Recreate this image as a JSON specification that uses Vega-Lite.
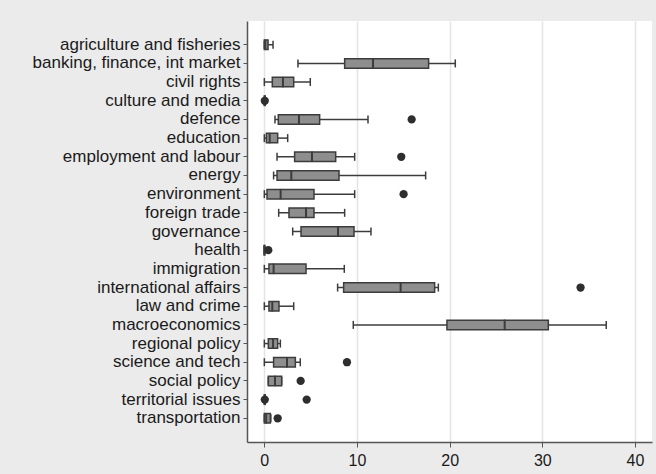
{
  "$schema": "https://vega.github.io/schema/vega-lite/v6.json",
  "width": 405,
  "height": 421,
  "autosize": {"type": "none"},
  "padding": {"left": 247, "top": 21, "right": 4, "bottom": 32},
  "background": "#ebebeb",
  "config": {
    "view": {"fill": "white", "stroke": null},
    "font": "Liberation Sans"
  },
  "datasets": {
    "boxes": [
      {"cat": "agriculture and fisheries", "lo": 0, "q1": 0, "med": 0.1, "q3": 0.4, "hi": 0.94},
      {"cat": "banking, finance, int market", "lo": 3.63, "q1": 8.67, "med": 11.73, "q3": 17.73, "hi": 20.61},
      {"cat": "civil rights", "lo": 0, "q1": 0.86, "med": 2.01, "q3": 3.17, "hi": 4.96},
      {"cat": "culture and media", "lo": 0, "q1": 0, "med": 0.05, "q3": 0.1, "hi": 0.1},
      {"cat": "defence", "lo": 1.15, "q1": 1.51, "med": 3.74, "q3": 5.97, "hi": 11.19},
      {"cat": "education", "lo": 0, "q1": 0.22, "med": 0.58, "q3": 1.44, "hi": 2.52},
      {"cat": "employment and labour", "lo": 1.37, "q1": 3.27, "med": 5.14, "q3": 7.7, "hi": 9.75},
      {"cat": "energy", "lo": 1.0, "q1": 1.37, "med": 2.91, "q3": 8.06, "hi": 17.41},
      {"cat": "environment", "lo": 0, "q1": 0.29, "med": 1.76, "q3": 5.36, "hi": 9.75},
      {"cat": "foreign trade", "lo": 1.55, "q1": 2.66, "med": 4.5, "q3": 5.36, "hi": 8.67},
      {"cat": "governance", "lo": 3.06, "q1": 3.96, "med": 7.95, "q3": 9.68, "hi": 11.51},
      {"cat": "health", "lo": 0, "q1": 0, "med": 0, "q3": 0.05, "hi": 0.05},
      {"cat": "immigration", "lo": 0, "q1": 0.5, "med": 1.0, "q3": 4.5, "hi": 8.63},
      {"cat": "international affairs", "lo": 7.91, "q1": 8.56, "med": 14.71, "q3": 18.38, "hi": 18.78},
      {"cat": "law and crime", "lo": 0, "q1": 0.5, "med": 0.86, "q3": 1.58, "hi": 3.17},
      {"cat": "macroeconomics", "lo": 9.6, "q1": 19.71, "med": 25.94, "q3": 30.65, "hi": 36.9},
      {"cat": "regional policy", "lo": 0, "q1": 0.43, "med": 0.94, "q3": 1.44, "hi": 1.73},
      {"cat": "science and tech", "lo": 0, "q1": 1.0, "med": 2.45, "q3": 3.35, "hi": 3.88},
      {"cat": "social policy", "lo": 0.43, "q1": 0.43, "med": 1.15, "q3": 1.87, "hi": 1.87},
      {"cat": "territorial issues", "lo": 0, "q1": 0, "med": 0.05, "q3": 0.1, "hi": 0.1},
      {"cat": "transportation", "lo": 0, "q1": 0, "med": 0.2, "q3": 0.65, "hi": 0.7}
    ],
    "outliers": [
      {"cat": "culture and media", "v": 0.05},
      {"cat": "defence", "v": 15.9},
      {"cat": "employment and labour", "v": 14.78},
      {"cat": "environment", "v": 15.03},
      {"cat": "health", "v": 0.43},
      {"cat": "international affairs", "v": 34.13},
      {"cat": "science and tech", "v": 8.92},
      {"cat": "social policy", "v": 3.92},
      {"cat": "territorial issues", "v": 0.05},
      {"cat": "territorial issues", "v": 4.57},
      {"cat": "transportation", "v": 1.44}
    ]
  },
  "encoding": {
    "y": {
      "field": "cat",
      "type": "nominal",
      "sort": null,
      "scale": {"type": "band", "paddingInner": 0, "paddingOuter": 0.77},
      "axis": {
        "title": null,
        "domainColor": "#555555",
        "domainWidth": 1.5,
        "tickColor": "#555555",
        "tickSize": 4,
        "labelFontSize": 17,
        "labelColor": "#1a1a1a",
        "labelPadding": 3,
        "labelLimit": 300
      }
    }
  },
  "layer": [
    {
      "data": {"name": "boxes"},
      "mark": {"type": "rule", "color": "#3c3c3c", "strokeWidth": 1.5},
      "encoding": {
        "x": {
          "field": "lo",
          "type": "quantitative",
          "scale": {"domain": [-1.87, 41.84], "nice": false, "zero": false},
          "axis": {
            "title": null,
            "values": [0, 10, 20, 30, 40],
            "grid": true,
            "gridColor": "#e4e4e4",
            "gridWidth": 1.5,
            "domainColor": "#555555",
            "domainWidth": 1.5,
            "tickColor": "#555555",
            "tickSize": 5,
            "labelFontSize": 16,
            "labelColor": "#1a1a1a",
            "labelPadding": 5
          }
        },
        "x2": {"field": "hi"}
      }
    },
    {
      "data": {"name": "boxes"},
      "mark": {"type": "tick", "color": "#3c3c3c", "size": 8, "thickness": 1.5, "opacity": 1},
      "encoding": {"x": {"field": "lo", "type": "quantitative"}}
    },
    {
      "data": {"name": "boxes"},
      "mark": {"type": "tick", "color": "#3c3c3c", "size": 8, "thickness": 1.5, "opacity": 1},
      "encoding": {"x": {"field": "hi", "type": "quantitative"}}
    },
    {
      "data": {"name": "boxes"},
      "mark": {"type": "bar", "size": 9.5, "fill": "#8e8e8e", "stroke": "#3c3c3c", "strokeWidth": 1.5},
      "encoding": {
        "x": {"field": "q1", "type": "quantitative"},
        "x2": {"field": "q3"}
      }
    },
    {
      "data": {"name": "boxes"},
      "mark": {"type": "tick", "color": "#3c3c3c", "size": 10.5, "thickness": 2, "opacity": 1},
      "encoding": {"x": {"field": "med", "type": "quantitative"}}
    },
    {
      "data": {"name": "outliers"},
      "mark": {"type": "circle", "color": "#2e2e2e", "size": 68, "opacity": 1},
      "encoding": {"x": {"field": "v", "type": "quantitative"}}
    }
  ]
}
